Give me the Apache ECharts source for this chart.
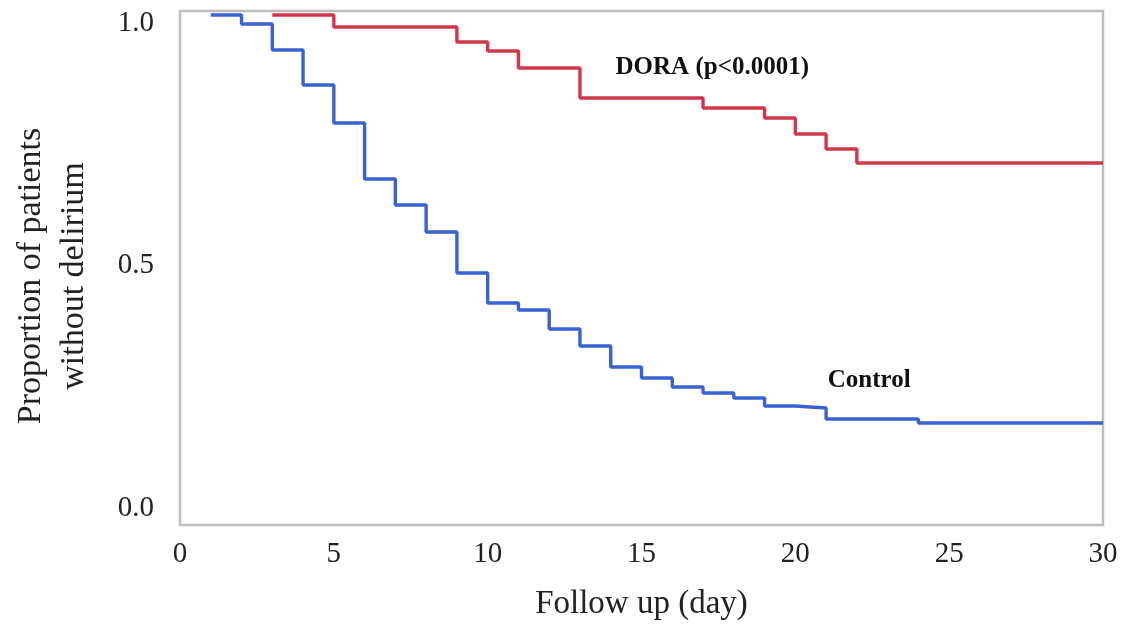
<!DOCTYPE html>
<html>
<head>
<meta charset="utf-8">
<title>Proportion without delirium</title>
<script src="https://cdn.jsdelivr.net/npm/echarts@6/dist/echarts.min.js"></script>
<style>
  html, body { margin: 0; padding: 0; background: #fff; }
  #main { width: 1127px; height: 628px; }
</style>
</head>
<body>
<div id="main"></div>
<script>
// follow-up day where each step happens, and the proportion after it
var controlDays = [1, 2, 3, 4, 5, 6, 7, 8, 9, 10, 11, 12, 13, 14, 15, 16, 17, 18, 19, 20, 21, 24, 30];
var controlSurv = [1.0, 0.982, 0.93, 0.86, 0.784, 0.672, 0.62, 0.566, 0.484, 0.424, 0.41, 0.372, 0.338,
                   0.296, 0.274, 0.256, 0.244, 0.234, 0.218, 0.214, 0.192, 0.184, 0.184];
var doraDays = [3, 5, 9, 10, 11, 13, 17, 19, 20, 21, 22, 30];
var doraSurv = [1.0, 0.976, 0.946, 0.928, 0.894, 0.834, 0.814, 0.794, 0.762, 0.732, 0.704, 0.704];
var yTicks = [0, 0.5, 1.0];

function pairs(xs, ys){
    var out = [];
    for(var i=0;i<xs.length;i++){
        out.push([xs[i], ys[i]]);
    }
    return out;
}

var serif = '"Liberation Serif", "Times New Roman", serif';
var chart = echarts.init(document.getElementById('main'));

var option = {
    backgroundColor: '#fff',
    animation: false,
    grid: {
        left: 180, right: 24, top: 11, bottom: 103,
        containLabel: false,
        outerBoundsMode: 'none',
        show: true, borderColor: '#bdbdbd', borderWidth: 2.5
    },
    xAxis: {
        type: 'value',
        min: 0, max: 30, interval: 5,
        name: 'Follow up (day)',
        nameLocation: 'middle',
        nameGap: 63,
        nameTextStyle: { fontFamily: serif, fontSize: 33, color: '#222' },
        axisLine: { show: false },
        axisTick: { show: false },
        splitLine: { show: false },
        axisLabel: { fontFamily: serif, fontSize: 29, color: '#222', margin: 15 }
    },
    yAxis: [
        {
            // data axis
            type: 'value',
            min: -0.02, max: 1.008,
            name: 'Proportion of patients\nwithout delirium',
            nameLocation: 'middle',
            nameGap: 84,
            nameTextStyle: { fontFamily: serif, fontSize: 34, color: '#222', lineHeight: 43,
                padding: [0, 16, 0, 0] },
            axisLine: { show: false },
            axisTick: { show: false },
            splitLine: { show: false },
            axisLabel: { show: false }
        },
        {
            // tick labels sit a little inside the frame in the original
            type: 'value',
            position: 'left',
            min: -0.035, max: 1.025,
            axisLine: { show: false },
            axisTick: { show: false },
            splitLine: { show: false },
            axisLabel: {
                customValues: yTicks,
                fontFamily: serif, fontSize: 29, color: '#222', margin: 26,
                formatter: function(v){ return v.toFixed(1); }
            }
        }
    ],
    series: [
        {
            name: 'Control',
            type: 'line',
            step: 'end',
            symbol: 'none',
            data: pairs(controlDays, controlSurv),
            lineStyle: { color: '#3a63d2', width: 3.4 },
            markPoint: {
                symbol: 'circle', symbolSize: 0,
                data: [{ coord: [22.4, 0.268] }],
                label: { show: true, position: 'inside', formatter: 'Control',
                    fontFamily: serif, fontWeight: 'bold', fontSize: 25, color: '#111' }
            }
        },
        {
            name: 'DORA',
            type: 'line',
            step: 'end',
            symbol: 'none',
            data: pairs(doraDays, doraSurv),
            lineStyle: { color: '#d0374b', width: 3.4 },
            markPoint: {
                symbol: 'circle', symbolSize: 0,
                data: [{ coord: [17.3, 0.894] }],
                label: { show: true, position: 'inside', formatter: 'DORA (p<0.0001)',
                    fontFamily: serif, fontWeight: 'bold', fontSize: 25, color: '#111' }
            }
        }
    ]
};

chart.setOption(option);
window.onresize = chart.resize;
</script>
</body>
</html>
